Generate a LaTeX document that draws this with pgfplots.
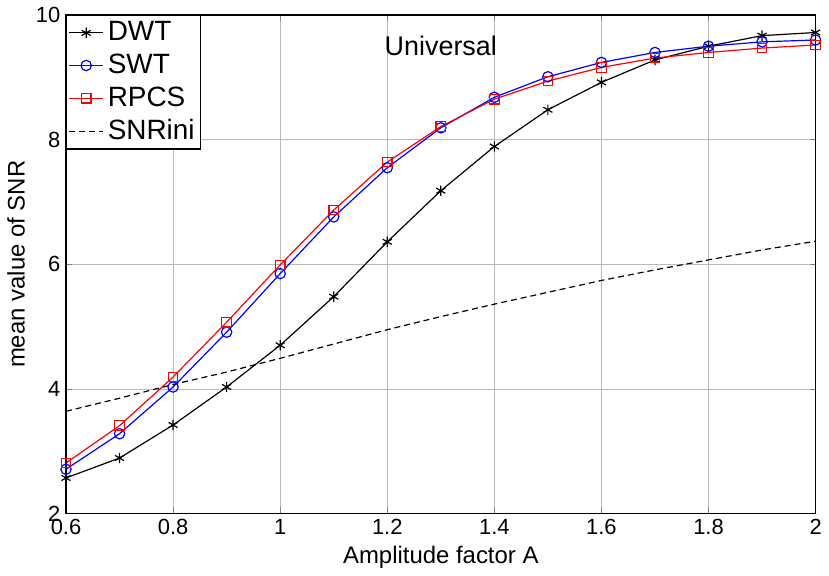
\documentclass[border=0pt]{standalone}
\usepackage{fontspec}
\setmainfont{Liberation Sans}
\usepackage{pgfplots}
\pgfplotsset{compat=1.18}

\begin{document}
\fontsize{11}{13}\selectfont
\begin{tikzpicture}
\begin{axis}[
    scale only axis,
    width=376pt,
    height=250pt,
    xmin=0.6, xmax=2,
    ymin=2, ymax=10,
    xtick={0.6,0.8,...,2.0},
    ytick={2,4,6,8,10},
    xticklabels={0.6,0.8,1,1.2,1.4,1.6,1.8,2},
    /pgf/number format/assume math mode=true,
    tick label style={font=\fontsize{11}{13}\selectfont},
    label style={font=\fontsize{12}{14}\selectfont},
    xticklabel style={yshift=1pt},
    yticklabel style={xshift=1pt},
    xlabel={Amplitude factor A},
    ylabel={mean value of SNR},
    xlabel style={yshift=2pt},
    ylabel style={yshift=-2pt},
    tick align=inside,
    major tick length=3pt,
    grid=major,
    grid style={gray!55, line width=0.3pt},
    axis line style={line width=0.7pt},
    legend style={
        at={(0,1)}, anchor=north west,
        font=\fontsize{14}{16}\selectfont,
        draw=black, line width=0.6pt,
        inner sep=1pt, row sep=1pt,
        cells={anchor=west},
    },
    legend cell align=left,
]
\addplot[black, line width=0.6pt, mark=asterisk, mark size=2.6pt] coordinates {
    (0.6,2.57) (0.7,2.89) (0.8,3.42) (0.9,4.03) (1.0,4.70)
    (1.1,5.48) (1.2,6.36) (1.3,7.18) (1.4,7.89) (1.5,8.48)
    (1.6,8.92) (1.7,9.28) (1.8,9.50) (1.9,9.67) (2.0,9.72)
};
\addplot[blue, line width=0.6pt, mark=o, mark size=2.6pt] coordinates {
    (0.6,2.71) (0.7,3.28) (0.8,4.03) (0.9,4.91) (1.0,5.85)
    (1.1,6.76) (1.2,7.55) (1.3,8.19) (1.4,8.68) (1.5,9.01)
    (1.6,9.24) (1.7,9.40) (1.8,9.50) (1.9,9.57) (2.0,9.60)
};
\addplot[red, line width=0.6pt, mark=square, mark size=2.4pt] coordinates {
    (0.6,2.81) (0.7,3.41) (0.8,4.19) (0.9,5.07) (1.0,5.99)
    (1.1,6.87) (1.2,7.64) (1.3,8.21) (1.4,8.65) (1.5,8.94)
    (1.6,9.16) (1.7,9.31) (1.8,9.40) (1.9,9.47) (2.0,9.52)
};
\addplot[black, line width=0.6pt, densely dashed, no markers] coordinates {
    (0.6,3.64) (0.7,3.85) (0.8,4.07) (0.9,4.27) (1.0,4.49)
    (1.1,4.72) (1.2,4.95) (1.3,5.16) (1.4,5.36) (1.5,5.55)
    (1.6,5.74) (1.7,5.91) (1.8,6.07) (1.9,6.23) (2.0,6.37)
};
\legend{DWT, SWT, RPCS, SNRini}
\node[font=\fontsize{13.5}{15}\selectfont] at (axis cs:1.3,9.5) {Universal};
\end{axis}
\end{tikzpicture}
\end{document}
